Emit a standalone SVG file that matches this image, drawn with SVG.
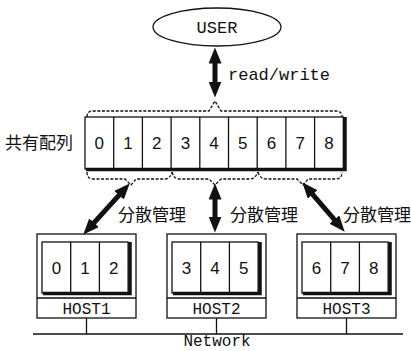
<svg xmlns="http://www.w3.org/2000/svg" width="411" height="351" viewBox="0 0 411 351">
<style>
.bg{fill:#fff}
.ln{fill:none;stroke:#111;stroke-width:1.3}
.box{fill:#fff;stroke:#111;stroke-width:1.3}
.sh{fill:none;stroke:#111;stroke-width:3.5}
.dash{fill:none;stroke:#111;stroke-width:1.3;stroke-dasharray:3 1.6}
.mono{font-family:"Liberation Mono","DejaVu Sans Mono",monospace;fill:#111;text-anchor:middle}
.dig{font-family:"Liberation Sans","DejaVu Sans",sans-serif;font-size:17px;fill:#111;text-anchor:middle}
.cjk{font-family:"Noto Sans CJK JP","Noto Sans CJK SC",sans-serif;font-size:17px;fill:#111}
.arr{stroke:#111;stroke-width:5;fill:none;marker-start:url(#ah);marker-end:url(#ah)}
</style>
<defs>
<marker id="ah" viewBox="0 0 16 13" refX="0.5" refY="6.5" markerWidth="16" markerHeight="13" markerUnits="userSpaceOnUse" orient="auto-start-reverse">
<path d="M0,0 L16,6.5 L0,13 z" fill="#111"/>
</marker>
</defs>
<rect class="bg" x="0" y="0" width="411" height="351"/>

<g id="user">
<ellipse class="box" cx="217" cy="27" rx="64" ry="19"/>
<text class="mono" x="217" y="33" font-size="17">USER</text>
</g>

<g id="shared-array">
<text class="cjk" x="5" y="149">共有配列</text>
<rect class="box" x="85" y="117" width="258.3" height="52"/>
<path class="ln" d="M113.7,117V169 M142.4,117V169 M171.1,117V169 M199.8,117V169 M228.5,117V169 M257.2,117V169 M285.9,117V169 M314.6,117V169"/>
<path class="sh" d="M86,169.5 H345 V117"/>
<text class="dig" x="99.3" y="149">0</text>
<text class="dig" x="128" y="149">1</text>
<text class="dig" x="156.7" y="149">2</text>
<text class="dig" x="185.4" y="149">3</text>
<text class="dig" x="214.1" y="149">4</text>
<text class="dig" x="242.8" y="149">5</text>
<text class="dig" x="271.5" y="149">6</text>
<text class="dig" x="300.2" y="149">7</text>
<text class="dig" x="328.9" y="149">8</text>
<path class="dash" d="M87,117 Q87,111 93,111 H209 L215,101 L221,111 H336 Q342,111 342,117"/>
<path class="dash" d="M87,172 Q87,179 93,179 H125 L131,185 L136,179 H165 Q170,179 172,172"/>
<path class="dash" d="M172,172 Q174,179 179,179 H209 L215,185 L221,179 H250 Q255,179 258,172"/>
<path class="dash" d="M258,172 Q260,179 266,179 H297 L303,185 L308,179 H336 Q342,179 342,172"/>
</g>

<g id="host1">
<rect class="box" x="37" y="234" width="99" height="84"/>
<path class="ln" d="M37,298 H136"/>
<rect class="box" x="42" y="242" width="86.1" height="51"/>
<path class="ln" d="M70.7,242V293 M99.4,242V293"/>
<path class="sh" d="M43,293.5 H130 V242"/>
<text class="dig" x="56.4" y="274">0</text>
<text class="dig" x="85" y="274">1</text>
<text class="dig" x="113.8" y="274">2</text>
<text class="mono" x="86.5" y="314" font-size="16">HOST1</text>
</g>

<g id="host2">
<rect class="box" x="167" y="234" width="99" height="84"/>
<path class="ln" d="M167,298 H266"/>
<rect class="box" x="172" y="242" width="86.1" height="51"/>
<path class="ln" d="M200.7,242V293 M229.4,242V293"/>
<path class="sh" d="M173,293.5 H260 V242"/>
<text class="dig" x="186.4" y="274">3</text>
<text class="dig" x="215" y="274">4</text>
<text class="dig" x="243.8" y="274">5</text>
<text class="mono" x="216.5" y="314" font-size="16">HOST2</text>
</g>

<g id="host3">
<rect class="box" x="297" y="234" width="99" height="84"/>
<path class="ln" d="M297,298 H396"/>
<rect class="box" x="302" y="242" width="86.1" height="51"/>
<path class="ln" d="M330.7,242V293 M359.4,242V293"/>
<path class="sh" d="M303,293.5 H390 V242"/>
<text class="dig" x="316.4" y="274">6</text>
<text class="dig" x="345" y="274">7</text>
<text class="dig" x="373.8" y="274">8</text>
<text class="mono" x="346.5" y="314" font-size="16">HOST3</text>
</g>

<g id="network">
<path class="ln" d="M33,334 H403"/>
<text class="mono" x="217" y="346" font-size="16">Network</text>
</g>

<g id="connectors">
<line class="arr" x1="215" y1="63" x2="215" y2="82"/>
<text class="mono" x="228" y="80" font-size="17" style="text-anchor:start">read/write</text>
<line class="arr" x1="119.3" y1="194.9" x2="93.7" y2="223.1"/>
<text class="cjk" x="118" y="221">分散管理</text>
<line class="arr" x1="215" y1="199" x2="215" y2="217"/>
<text class="cjk" x="230" y="221">分散管理</text>
<line class="arr" x1="312.4" y1="194.1" x2="334.6" y2="219.9"/>
<text class="cjk" x="343" y="221">分散管理</text>
<path class="ln" d="M86.5,318V334 M216.5,318V334 M346.5,318V334"/>
</g>
</svg>
